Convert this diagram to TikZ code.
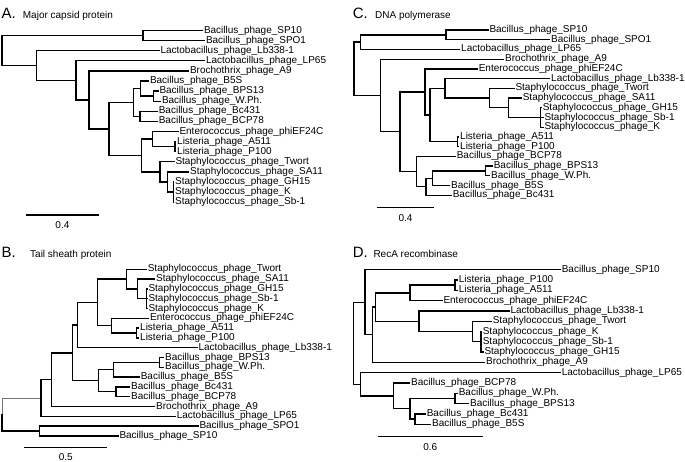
\documentclass[tikz,border=0pt]{standalone}
\usepackage{fontspec}
\setmainfont{Liberation Sans}
\usetikzlibrary{calc}
\def\clade(#1)(#2)(#3:#4){\path let \p1=($(#3)!0.5!(#4)$) in coordinate (#1) at (#2pt,\y1);}

\begin{document}
\begin{tikzpicture}[x=1pt, y=-1pt,
		branch/.style={line width=1.35pt, line cap=rect},
		faint/.style={line width=0.7pt, color=black!55},
		leaf/.style={anchor=west, inner sep=1.5pt, outer sep=0pt, font=\fontsize{10}{12}\selectfont, text height=7.2pt, text depth=2.2pt},
		paneltag/.style={anchor=base west, inner sep=0pt, font=\fontsize{15}{17}\selectfont},
		subtitle/.style={anchor=base west, inner sep=0pt, font=\fontsize{10}{12}\selectfont},
		scalebar/.style={line width=1.35pt},
		scalenum/.style={anchor=base, inner sep=0pt, font=\fontsize{10}{12}\selectfont}]
			%%%%% START %%%%%
			\useasboundingbox (0,0) rectangle (685,461);
			
			%%%%% A %%%%%
			\node[paneltag] (aTag) at (1.5,18.3) {A.};
			\node[subtitle] (aTitle) at (22.7,18.3) {Major capsid protein};
			
			\node[leaf] (aSP10) at (202.5,30.5) {Bacillus\_phage\_SP10};
			\node[leaf] (aSPO1) at (204.5,40.6) {Bacillus\_phage\_SPO1};
			\node[leaf] (aLb338) at (159,50.7) {Lactobacillus\_phage\_Lb338-1};
			\node[leaf] (aLP65) at (204.5,60.8) {Lactobacillus\_phage\_LP65};
			\node[leaf] (aA9) at (188.5,70.9) {Brochothrix\_phage\_A9};
			\node[leaf] (aB5S) at (148.5,81) {Bacillus\_phage\_B5S};
			\node[leaf] (aBPS13) at (158,91.1) {Bacillus\_phage\_BPS13};
			\node[leaf] (aWPh) at (160.5,101.2) {Bacillus\_phage\_W.Ph.};
			\node[leaf] (aBc431) at (157.3,111.3) {Bacillus\_phage\_Bc431};
			\node[leaf] (aBCP78) at (157.3,121.4) {Bacillus\_phage\_BCP78};
			\node[leaf] (aphiEF) at (178,131.5) {Enterococcus\_phage\_phiEF24C};
			\node[leaf] (aA511) at (175.7,141.6) {Listeria\_phage\_A511};
			\node[leaf] (aP100) at (175.7,151.7) {Listeria\_phage\_P100};
			\node[leaf] (aTwort) at (174,161.8) {Staphylococcus\_phage\_Twort};
			\node[leaf] (aSA11) at (188.7,171.9) {Staphylococcus\_phage\_SA11};
			\node[leaf] (aGH15) at (173.7,182) {Staphylococcus\_phage\_GH15};
			\node[leaf] (aK) at (173.7,192.1) {Staphylococcus\_phage\_K};
			\node[leaf] (aSb1) at (173.7,202.2) {Staphylococcus\_phage\_Sb-1};
			
			\clade(a1)(143)(aSP10:aSPO1)
			\clade(a11)(153.3)(aBPS13:aWPh)
			\clade(a10)(140.7)(aB5S:a11)
			\clade(a12)(140)(aBc431:aBCP78)
			\clade(a9)(133.3)(a10:a12)
			\clade(a15)(175)(aA511:aP100)
			\clade(a14)(152.7)(aphiEF:a15)
			\clade(a18)(173.3)(aGH15:aSb1)
			\clade(a17)(167.7)(aSA11:a18)
			\clade(a16)(160)(aTwort:a17)
			\clade(a13)(141.7)(a14:a16)
			\clade(a8)(109)(a9:a13)
			\clade(a7)(89)(aA9:a8)
			\clade(a6)(76)(aLP65:a7)
			\clade(a2)(36.7)(aLb338:a6)
			\clade(aR)(2)(a1:a2)
			
			\foreach \p/\c in {aR/a1, aR/a2, a1/aSP10, a1/aSPO1, a2/aLb338, a2/a6, a6/aLP65, a6/a7,
				a7/aA9, a7/a8, a8/a9, a8/a13, a9/a10, a9/a12, a10/aB5S, a10/a11, a11/aBPS13, a11/aWPh,
				a12/aBc431, a12/aBCP78, a13/a14, a13/a16, a14/aphiEF, a14/a15, a15/aA511, a15/aP100,
				a16/aTwort, a16/a17, a17/aSA11, a17/a18, a18/aGH15, a18/aK, a18/aSb1}
				\draw[branch] (\p) |- (\c);
			
			\coordinate (aS1) at (25.7,215);
			\coordinate (aS2) at (99,215);
			\draw[scalebar] (aS1) -- (aS2);
			\node[scalenum] (aSN) at (62.4,228.3) {0.4};
			
			%%%%% B %%%%%
			\node[paneltag] (bTag) at (1.5,257.7) {B.};
			\node[subtitle] (bTitle) at (30,257.7) {Tail sheath protein};
			
			\node[leaf] (bTwort) at (146.3,269.3) {Staphylococcus\_phage\_Twort};
			\node[leaf] (bSA11) at (154.7,279.1) {Staphylococcus\_phage\_SA11};
			\node[leaf] (bGH15) at (147,288.9) {Staphylococcus\_phage\_GH15};
			\node[leaf] (bSb1) at (147,298.7) {Staphylococcus\_phage\_Sb-1};
			\node[leaf] (bK) at (147,308.5) {Staphylococcus\_phage\_K};
			\node[leaf] (bphiEF) at (148.7,318.3) {Enterococcus\_phage\_phiEF24C};
			\node[leaf] (bA511) at (138.7,328.1) {Listeria\_phage\_A511};
			\node[leaf] (bP100) at (138.7,337.9) {Listeria\_phage\_P100};
			\node[leaf] (bLb338) at (197,347.7) {Lactobacillus\_phage\_Lb338-1};
			\node[leaf] (bBPS13) at (163.7,357.5) {Bacillus\_phage\_BPS13};
			\node[leaf] (bWPh) at (163.7,367.3) {Bacillus\_phage\_W.Ph.};
			\node[leaf] (bB5S) at (139.3,377.1) {Bacillus\_phage\_B5S};
			\node[leaf] (bBc431) at (129.7,386.9) {Bacillus\_phage\_Bc431};
			\node[leaf] (bBCP78) at (129.7,396.7) {Bacillus\_phage\_BCP78};
			\node[leaf] (bA9) at (154.7,406.5) {Brochothrix\_phage\_A9};
			\node[leaf] (bLP65) at (175.3,416.3) {Lactobacillus\_phage\_LP65};
			\node[leaf] (bSPO1) at (198,426.1) {Bacillus\_phage\_SPO1};
			\node[leaf] (bSP10) at (118,435.9) {Bacillus\_phage\_SP10};
			
			\clade(b7c)(146.7)(bGH15:bK)
			\clade(b7)(137.7)(bSA11:b7c)
			\clade(b6s)(126.7)(bTwort:b7)
			\clade(b6l2)(136.7)(bA511:bP100)
			\clade(b6l)(111.7)(bphiEF:b6l2)
			\clade(b6)(97.3)(b6s:b6l)
			\clade(b5)(77.7)(b6:bLb338)
			\clade(b8a)(159.3)(bBPS13:bWPh)
			\clade(b8)(113.3)(b8a:bB5S)
			\clade(b9)(116)(bBc431:bBCP78)
			\clade(bBac)(98.3)(b8:b9)
			\clade(b4)(72.7)(b5:bBac)
			\clade(b3)(51.7)(b4:bA9)
			\clade(b2)(41)(b3:bLP65)
			\clade(b1)(39.3)(bSPO1:bSP10)
			\clade(bR)(2)(b2:b1)
			
			\draw[faint] (bR) |- (b2);
			\foreach \p/\c in {bR/b1, b1/bSPO1, b1/bSP10, b2/b3, b2/bLP65, b3/b4, b3/bA9, b4/b5, b4/bBac,
				b5/b6, b5/bLb338, b6/b6s, b6/b6l, b6s/bTwort, b6s/b7, b7/bSA11, b7/b7c, b7c/bGH15,
				b7c/bSb1, b7c/bK, b6l/bphiEF, b6l/b6l2, b6l2/bA511, b6l2/bP100, bBac/b8, bBac/b9,
				b8/b8a, b8/bB5S, b8a/bBPS13, b8a/bWPh, b9/bBc431, b9/bBCP78}
				\draw[branch] (\p) |- (\c);
			
			\coordinate (bS1) at (24,447.3);
			\coordinate (bS2) at (107.3,447.3);
			\draw[scalebar] (bS1) -- (bS2);
			\node[scalenum] (bSN) at (65.7,460.2) {0.5};
			
			%%%%% C %%%%%
			\node[paneltag] (cTag) at (352.7,18.3) {C.};
			\node[subtitle] (cTitle) at (375,18.3) {DNA polymerase};
			
			\node[leaf] (cSP10) at (488,30) {Bacillus\_phage\_SP10};
			\node[leaf] (cSPO1) at (549.7,39.7) {Bacillus\_phage\_SPO1};
			\node[leaf] (cLP65) at (459.7,49.4) {Lactobacillus\_phage\_LP65};
			\node[leaf] (cA9) at (503.7,59.2) {Brochothrix\_phage\_A9};
			\node[leaf] (cphiEF) at (477.3,68.9) {Enterococcus\_phage\_phiEF24C};
			\node[leaf] (cLb338) at (549.7,78.6) {Lactobacillus\_phage\_Lb338-1};
			\node[leaf] (cTwort) at (514,88.3) {Staphylococcus\_phage\_Twort};
			\node[leaf] (cSA11) at (521.3,98) {Staphylococcus\_phage\_SA11};
			\node[leaf] (cGH15) at (541.3,107.8) {Staphylococcus\_phage\_GH15};
			\node[leaf] (cSb1) at (543,117.5) {Staphylococcus\_phage\_Sb-1};
			\node[leaf] (cK) at (543,127.2) {Staphylococcus\_phage\_K};
			\node[leaf] (cA511) at (458.7,136.9) {Listeria\_phage\_A511};
			\node[leaf] (cP100) at (458.7,146.6) {Listeria\_phage\_P100};
			\node[leaf] (cBCP78) at (455.3,156.4) {Bacillus\_phage\_BCP78};
			\node[leaf] (cBPS13) at (492.3,166.1) {Bacillus\_phage\_BPS13};
			\node[leaf] (cWPh) at (489.7,175.8) {Bacillus\_phage\_W.Ph.};
			\node[leaf] (cB5S) at (449.7,185.5) {Bacillus\_phage\_B5S};
			\node[leaf] (cBc431) at (451.3,195.2) {Bacillus\_phage\_Bc431};
			
			\clade(c1a)(446)(cSP10:cSPO1)
			\clade(c1)(360.7)(c1a:cLP65)
			\clade(c8)(540.7)(cGH15:cK)
			\clade(c7)(508.3)(cSA11:c8)
			\clade(c6)(489.3)(cTwort:c7)
			\clade(c5)(445)(cLb338:c6)
			\clade(c9)(457.7)(cA511:cP100)
			\clade(c4)(430)(c5:c9)
			\clade(c3)(425)(cphiEF:c4)
			\clade(c12)(485.7)(cBPS13:cWPh)
			\clade(c11)(432.3)(c12:cB5S)
			\clade(c10b)(426)(c11:cBc431)
			\clade(c10)(416.7)(cBCP78:c10b)
			\clade(c2b)(400)(c3:c10)
			\clade(c2)(380.7)(cA9:c2b)
			\clade(cR)(354)(c1:c2)
			
			\foreach \p/\c in {cR/c1, cR/c2, c1/c1a, c1/cLP65, c1a/cSP10, c1a/cSPO1, c2/cA9, c2/c2b,
				c2b/c3, c2b/c10, c3/cphiEF, c3/c4, c4/c5, c4/c9, c5/cLb338, c5/c6, c6/cTwort, c6/c7,
				c7/cSA11, c7/c8, c8/cGH15, c8/cSb1, c8/cK, c9/cA511, c9/cP100, c10/cBCP78, c10/c10b,
				c10b/c11, c10b/cBc431, c11/c12, c11/cB5S, c12/cBPS13, c12/cWPh}
				\draw[branch] (\p) |- (\c);
			
			\coordinate (cS1) at (376.7,207.3);
			\coordinate (cS2) at (434.3,207.3);
			\draw[scalebar] (cS1) -- (cS2);
			\node[scalenum] (cSN) at (405.5,221.7) {0.4};
			
			%%%%% D %%%%%
			\node[paneltag] (dTag) at (352.7,257.7) {D.};
			\node[subtitle] (dTitle) at (373.3,257.7) {RecA recombinase};
			
			\node[leaf] (dSP10) at (560.3,269.7) {Bacillus\_phage\_SP10};
			\node[leaf] (dP100) at (457.3,280) {Listeria\_phage\_P100};
			\node[leaf] (dA511) at (457.3,290.3) {Listeria\_phage\_A511};
			\node[leaf] (dphiEF) at (442,300.6) {Enterococcus\_phage\_phiEF24C};
			\node[leaf] (dLb338) at (509,310.9) {Lactobacillus\_phage\_Lb338-1};
			\node[leaf] (dTwort) at (491.3,321.2) {Staphylococcus\_phage\_Twort};
			\node[leaf] (dK) at (481.3,331.5) {Staphylococcus\_phage\_K};
			\node[leaf] (dSb1) at (481.3,341.8) {Staphylococcus\_phage\_Sb-1};
			\node[leaf] (dGH15) at (483,352.1) {Staphylococcus\_phage\_GH15};
			\node[leaf] (dA9) at (484.7,362.4) {Brochothrix\_phage\_A9};
			\node[leaf] (dLP65) at (560.3,372.7) {Lactobacillus\_phage\_LP65};
			\node[leaf] (dBCP78) at (409.7,383) {Bacillus\_phage\_BCP78};
			\node[leaf] (dWPh) at (457.3,393.3) {Bacillus\_phage\_W.Ph.};
			\node[leaf] (dBPS13) at (468.7,403.6) {Bacillus\_phage\_BPS13};
			\node[leaf] (dBc431) at (425.3,413.9) {Bacillus\_phage\_Bc431};
			\node[leaf] (dB5S) at (430.7,424.2) {Bacillus\_phage\_B5S};
			
			\clade(d6)(455)(dP100:dA511)
			\clade(d5)(410)(d6:dphiEF)
			\clade(d9)(481)(dK:dGH15)
			\clade(d8)(472.3)(dTwort:d9)
			\clade(d7)(419)(dLb338:d8)
			\clade(d4)(375.7)(d5:d7)
			\clade(d3)(372.3)(d4:dA9)
			\clade(d1)(365)(dSP10:d3)
			\clade(d12)(455)(dWPh:dBPS13)
			\clade(d13)(415)(dBc431:dB5S)
			\clade(d11)(410)(d12:d13)
			\clade(d10)(393.3)(dBCP78:d11)
			\clade(d2)(360.7)(dLP65:d10)
			\clade(dR)(353.3)(d1:d2)
			
			\foreach \p/\c in {dR/d1, dR/d2, d1/dSP10, d1/d3, d3/d4, d3/dA9, d4/d5, d4/d7, d5/d6,
				d5/dphiEF, d6/dP100, d6/dA511, d7/dLb338, d7/d8, d8/dTwort, d8/d9, d9/dK, d9/dSb1,
				d9/dGH15, d2/dLP65, d2/d10, d10/dBCP78, d10/d11, d11/d12, d11/d13, d12/dWPh,
				d12/dBPS13, d13/dBc431, d13/dB5S}
				\draw[branch] (\p) |- (\c);
			
			\coordinate (dS1) at (377.7,436.7);
			\coordinate (dS2) at (482.7,436.7);
			\draw[scalebar] (dS1) -- (dS2);
			\node[scalenum] (dSN) at (430.2,450) {0.6};
			
			%%%%% END %%%%%
\end{tikzpicture}
\end{document}
